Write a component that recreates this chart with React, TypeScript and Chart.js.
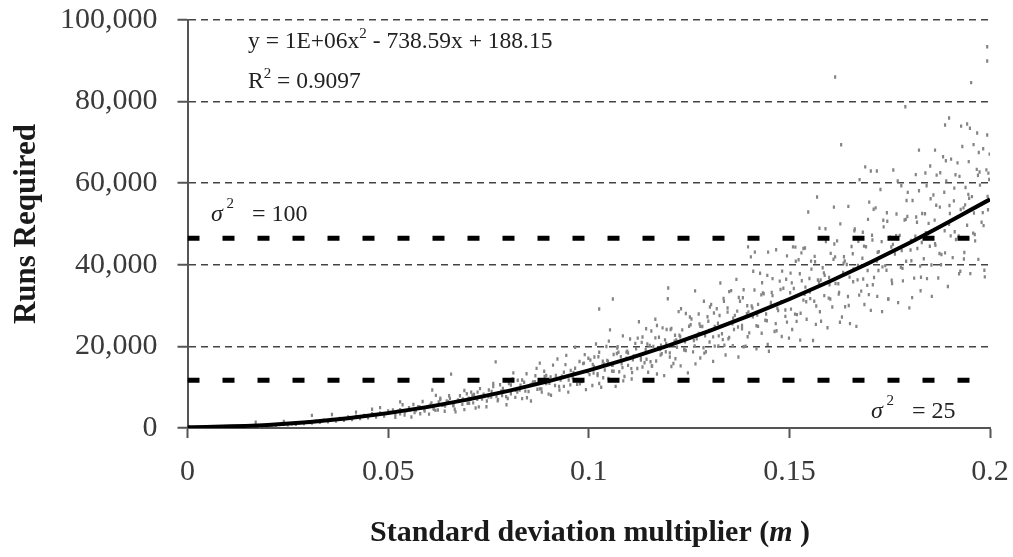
import React, { useEffect, useRef } from 'react';
import { Chart, registerables } from 'chart.js';

Chart.register(...registerables);

// ---- tick labels ----
const xTickLabels = ['0', '0.05', '0.1', '0.15', '0.2'];
const yTickLabels = ['0', '20,000', '40,000', '60,000', '80,000', '100,000'];

// ---- reference levels (σ² = 100 and σ² = 25) ----
const sigmaLevels = [46500, 11700];

// ---- quadratic trend line (m, runs) ----
const trendM = [0, 0.02, 0.04, 0.06, 0.08, 0.1, 0.12, 0.14, 0.16, 0.18, 0.2];
const trendRuns = [190, 730, 2400, 5180, 9090, 14110, 20260, 27530, 35910, 45420, 56040];

// ---- simulated observations [m, runs required] ----
const runsLow: [number, number][] = [
  [0.004, 60], [0.007, 110], [0.009, 90], [0.011, 210], [0.013, 260], [0.015, 290],
  [0.016, 420], [0.017, 1400], [0.018, 400], [0.019, 560], [0.021, 700], [0.022, 580],
  [0.024, 900], [0.024, 1600], [0.025, 780], [0.026, 1050], [0.027, 880], [0.028, 1250],
  [0.029, 1100], [0.030, 1500], [0.031, 1200], [0.031, 3100], [0.032, 1650], [0.033, 1380],
  [0.034, 1900], [0.035, 1550], [0.036, 2100], [0.036, 3300], [0.037, 1700], [0.038, 2350],
  [0.039, 1900], [0.040, 2700], [0.041, 2100], [0.042, 2900], [0.042, 3900], [0.043, 2300],
  [0.044, 3100], [0.045, 2500], [0.046, 3500], [0.046, 4600], [0.047, 2700], [0.048, 3700],
  [0.048, 5000], [0.049, 2900], [0.050, 4200],
];

const runsMid: [number, number][] = [
  [0.0512, 4400], [0.0518, 2600], [0.0525, 4100], [0.053, 3500], [0.053, 6400], [0.0536, 5700],
  [0.0541, 3200], [0.0547, 4250], [0.0552, 5000], [0.0558, 2700], [0.0563, 5750], [0.0569, 4300],
  [0.0575, 5200], [0.058, 3500], [0.0586, 6500], [0.0591, 4150], [0.0597, 5250], [0.0602, 3400],
  [0.0608, 6150], [0.061, 9300], [0.0613, 4850], [0.0619, 8000], [0.0624, 4400], [0.063, 7000],
  [0.0635, 5550], [0.0641, 4100], [0.0646, 6650], [0.0652, 7900], [0.0657, 13200], [0.0663, 5450],
  [0.0668, 3950], [0.0674, 6900], [0.0679, 7900], [0.0685, 5800], [0.069, 4500], [0.0696, 8400],
  [0.0701, 7300], [0.0707, 8800], [0.0712, 6150], [0.0718, 4900], [0.0723, 8800], [0.0729, 9650],
  [0.0734, 7100], [0.074, 7700], [0.0745, 5200], [0.0751, 9300], [0.0757, 7600], [0.0762, 10900],
  [0.0768, 16200], [0.0773, 6650], [0.0779, 10600], [0.0784, 7950], [0.079, 9000], [0.0795, 5700],
  [0.0801, 10900], [0.0806, 8400], [0.0812, 13500], [0.0817, 7500], [0.0823, 11700], [0.0828, 9300],
  [0.0834, 7200], [0.0839, 11200], [0.0845, 13300], [0.085, 8950], [0.0856, 6600], [0.0861, 11300],
  [0.0867, 12800], [0.0872, 9500], [0.0878, 15900], [0.0883, 8800], [0.0889, 13900], [0.0894, 10900],
  [0.09, 8300], [0.0905, 12500], [0.0911, 15400], [0.0916, 10400], [0.0922, 16900], [0.0927, 9300],
  [0.0933, 12700], [0.0938, 10200], [0.0944, 17800], [0.0949, 8800], [0.0955, 14100], [0.096, 12300],
  [0.0966, 19800], [0.0971, 10700], [0.0977, 16300], [0.0982, 11400], [0.0988, 15900], [0.0993, 9400],
  [0.0999, 17100],
];

const runsUpperMid: [number, number][] = [
  [0.1004, 16650], [0.1009, 10400], [0.1013, 15090], [0.1018, 20600], [0.1022, 12870], [0.1026, 18570],
  [0.1031, 9970], [0.1035, 16350], [0.104, 14230], [0.1044, 19990], [0.1049, 12170], [0.1053, 24060],
  [0.1058, 15360], [0.1062, 18000], [0.1067, 10200], [0.1071, 19590], [0.1076, 13780], [0.108, 17470],
  [0.1085, 22580], [0.1089, 12620], [0.1094, 18600], [0.1098, 15360], [0.1103, 21800], [0.1107, 12010],
  [0.1112, 17660], [0.1116, 20750], [0.1121, 14600], [0.1125, 26050], [0.113, 17160], [0.1134, 22320],
  [0.1139, 15980], [0.1143, 24330], [0.1148, 13650], [0.1152, 20250], [0.1157, 15180], [0.1161, 20000],
  [0.1166, 26640], [0.117, 13220], [0.1175, 22230], [0.1179, 17900], [0.1184, 24540], [0.1188, 12840],
  [0.1193, 20730], [0.1197, 31690], [0.1202, 17400], [0.1206, 24430], [0.1211, 15810], [0.1215, 22740],
  [0.122, 19800], [0.1224, 28530], [0.1229, 15230], [0.1233, 24050], [0.1238, 19310], [0.1242, 28080],
  [0.1247, 13500], [0.1251, 22130], [0.1256, 26730], [0.126, 18670], [0.1265, 33600], [0.1269, 21870],
  [0.1274, 27950], [0.1278, 17150], [0.1283, 24890], [0.1287, 31070], [0.1292, 18700], [0.1296, 27280],
  [0.1301, 21090], [0.1305, 30280], [0.131, 16340], [0.1314, 24900], [0.1319, 29230], [0.1323, 20090],
  [0.1328, 35550], [0.1332, 23100], [0.1337, 31040], [0.1341, 17880], [0.1346, 28400], [0.135, 22200],
  [0.1355, 33670], [0.1359, 20170], [0.1364, 27610], [0.1368, 36420], [0.1373, 17420], [0.1377, 31060],
  [0.1382, 25140], [0.1386, 33880], [0.1391, 20050], [0.1395, 29970], [0.14, 23320], [0.1404, 41950],
  [0.1409, 27240], [0.1413, 33820], [0.1418, 19420], [0.1422, 30290], [0.1427, 37920], [0.1431, 23220],
  [0.1436, 32910], [0.144, 26420], [0.1445, 37410], [0.1449, 18810], [0.1454, 30780], [0.1458, 36600],
  [0.1463, 23670], [0.1467, 43690], [0.1472, 28810], [0.1476, 35990], [0.1481, 22420], [0.1485, 34270],
  [0.149, 27350], [0.1494, 42190], [0.1499, 22020],
];

const runsHigh: [number, number][] = [
  [0.1503, 37950], [0.1507, 24160], [0.1511, 34200], [0.1515, 44340], [0.1519, 27780], [0.1523, 41240],
  [0.1527, 21540], [0.1531, 36100], [0.1535, 31340], [0.1539, 44100], [0.1543, 26660], [0.1547, 52930],
  [0.1551, 33340], [0.1555, 38930], [0.1559, 21440], [0.1563, 42070], [0.1567, 29910], [0.1571, 36280],
  [0.1575, 48970], [0.1579, 26180], [0.1583, 39290], [0.1587, 32440], [0.1591, 45720], [0.1595, 24580],
  [0.1599, 36870], [0.1603, 42800], [0.1607, 29640], [0.1611, 54130], [0.1615, 35420], [0.1619, 45870],
  [0.1623, 32820], [0.1627, 50030], [0.1631, 27190], [0.1635, 40420], [0.1639, 29710], [0.1643, 40060],
  [0.1647, 54310], [0.1651, 25570], [0.1655, 44490], [0.1659, 35830], [0.1663, 48790], [0.1667, 24900],
  [0.1671, 39870], [0.1675, 60880], [0.1679, 33550], [0.1683, 47980], [0.1687, 30280], [0.1691, 44430],
  [0.1695, 38610], [0.1699, 55360], [0.1703, 28830], [0.1707, 46090], [0.1711, 36890], [0.1715, 53950],
  [0.1719, 32270], [0.1723, 43220], [0.1727, 58460], [0.1731, 28530], [0.1735, 49300], [0.1739, 39800],
  [0.1743, 52740], [0.1747, 31620], [0.1751, 46780], [0.1755, 36220], [0.1759, 63250], [0.1763, 42640],
  [0.1767, 52450], [0.1771, 30740], [0.1775, 47200], [0.1779, 59380], [0.1783, 36050], [0.1787, 50970],
  [0.1791, 40870], [0.1795, 57740], [0.1799, 29450], [0.1803, 45970], [0.1807, 55770], [0.1811, 36740],
  [0.1815, 62100], [0.1819, 44000], [0.1823, 58160], [0.1827, 33650], [0.1831, 52570], [0.1835, 41480],
  [0.1839, 62500], [0.1843, 36610], [0.1847, 50150], [0.1851, 64200], [0.1855, 32270], [0.1859, 57090],
  [0.1863, 45190], [0.1867, 61980], [0.1871, 36760], [0.1875, 54140], [0.1879, 42510], [0.1883, 66480],
  [0.1887, 48350], [0.1891, 60570], [0.1895, 34690], [0.1899, 54530], [0.1903, 65910], [0.1907, 41750],
  [0.1911, 58800], [0.1915, 46210], [0.1919, 64970], [0.1923, 37790], [0.1927, 53550], [0.1931, 68990],
  [0.1935, 41410], [0.1939, 58960], [0.1943, 49680], [0.1947, 65280], [0.1951, 37840], [0.1955, 56720],
  [0.1959, 69460], [0.1963, 45860], [0.1967, 63380], [0.1971, 41340], [0.1975, 59520], [0.1979, 50440],
  [0.1983, 68460], [0.1987, 37030], [0.1991, 63270], [0.1995, 53490], [0.1999, 67130],
];

// dense band of observations close to the trend
const runsCore: [number, number][] = [
  [0.0506, 3870], [0.0518, 3340], [0.053, 4480], [0.0542, 3950], [0.0554, 4380], [0.0566, 3810],
  [0.0578, 5190], [0.059, 4530], [0.0602, 5330], [0.0614, 4590], [0.0626, 6360], [0.0638, 5640],
  [0.065, 6450], [0.0662, 5580], [0.0674, 6550], [0.0686, 7120], [0.0698, 6070], [0.071, 8050],
  [0.0722, 7010], [0.0734, 7690], [0.0746, 6620], [0.0758, 8930], [0.077, 7720], [0.0782, 8990],
  [0.0794, 7680], [0.0806, 10550], [0.0818, 9270], [0.083, 10510], [0.0842, 9030], [0.0854, 10520],
  [0.0866, 11340], [0.0878, 9600], [0.089, 12640], [0.0902, 10940], [0.0914, 11930], [0.0926, 10200],
  [0.0938, 13670], [0.095, 11750], [0.0962, 13600], [0.0974, 11550], [0.0986, 15790], [0.0998, 13800],
  [0.101, 15570], [0.1022, 13310], [0.1034, 15420], [0.1046, 16540], [0.1058, 13950], [0.107, 18270],
  [0.1082, 15730], [0.1094, 17090], [0.1106, 14560], [0.1118, 19420], [0.113, 16630], [0.1142, 19170],
  [0.1154, 16220], [0.1166, 22080], [0.1178, 19230], [0.119, 21610], [0.1202, 18410], [0.1214, 21250],
  [0.1226, 22730], [0.1238, 19100], [0.125, 24940], [0.1262, 21410], [0.1274, 23180], [0.1286, 19680],
  [0.1298, 26180], [0.131, 22340], [0.1322, 25690], [0.1334, 21670], [0.1346, 29420], [0.1358, 25560],
  [0.137, 28640], [0.1382, 24330], [0.1394, 28020], [0.1406, 29890], [0.1418, 25050], [0.143, 32640],
  [0.1442, 27950], [0.1454, 30190], [0.1466, 25570], [0.1478, 33950], [0.149, 28910], [0.1502, 33160],
  [0.1514, 27920], [0.1526, 37820], [0.1538, 32790], [0.155, 36660], [0.1562, 31080], [0.1574, 35730],
  [0.1586, 38030], [0.1598, 31820], [0.161, 41370], [0.1622, 35360], [0.1634, 38130], [0.1646, 32240],
  [0.1658, 42720], [0.167, 36310], [0.1682, 41590], [0.1694, 34950], [0.1706, 47260], [0.1718, 40910],
  [0.173, 45670], [0.1742, 38660], [0.1754, 44360], [0.1766, 47160], [0.1778, 39390], [0.179, 51140],
  [0.1802, 43640], [0.1814, 46990], [0.1826, 39680], [0.1838, 52500], [0.185, 44560], [0.1862, 50960],
  [0.1874, 42770], [0.1886, 57770], [0.1898, 49930], [0.191, 55670], [0.1922, 47060], [0.1934, 53940],
  [0.1946, 57260], [0.1958, 47770], [0.197, 61940], [0.1982, 52800], [0.1994, 56780],
];

const runsSpread: [number, number][] = [
  [0.1012, 13480], [0.1024, 17470], [0.1036, 12320], [0.1048, 16300], [0.106, 15420], [0.1072, 19950],
  [0.1084, 14810], [0.1096, 18840], [0.1108, 13580], [0.112, 17740], [0.1132, 20990], [0.1144, 16860],
  [0.1156, 23760], [0.1168, 16430], [0.118, 20270], [0.1192, 18700], [0.1204, 24150], [0.1216, 16970],
  [0.1228, 22380], [0.124, 21100], [0.1252, 27210], [0.1264, 20130], [0.1276, 25530], [0.1288, 18350],
  [0.13, 23900], [0.1312, 28200], [0.1324, 22580], [0.1336, 31740], [0.1348, 21880], [0.136, 26930],
  [0.1372, 24770], [0.1384, 31910], [0.1396, 22370], [0.1408, 29420], [0.142, 27670], [0.1432, 35600],
  [0.1444, 26270], [0.1456, 33240], [0.1468, 23830], [0.148, 30970], [0.1492, 36460], [0.1504, 29130],
  [0.1516, 40860], [0.1528, 28110], [0.154, 34530], [0.1552, 31700], [0.1564, 40750], [0.1576, 28510],
  [0.1588, 37420], [0.16, 35120], [0.1612, 45110], [0.1624, 33230], [0.1636, 41970], [0.1648, 30040],
  [0.166, 38960], [0.1672, 45790], [0.1684, 36530], [0.1696, 51140], [0.1708, 35120], [0.172, 43070],
  [0.1732, 39480], [0.1744, 50670], [0.1756, 35400], [0.1768, 46390], [0.178, 43470], [0.1792, 55750],
  [0.1804, 41010], [0.1816, 51710], [0.1828, 36960], [0.184, 47870], [0.1852, 56180], [0.1864, 44750],
  [0.1876, 62570], [0.1888, 42920], [0.19, 52560], [0.1912, 48110], [0.1924, 61670], [0.1936, 43030],
  [0.1948, 56310], [0.196, 52710], [0.1972, 67510], [0.1984, 49600], [0.1996, 62470],
];

const runsExtra: [number, number][] = [
  [0.0606, 5760], [0.0618, 4330], [0.063, 7280], [0.0642, 5370], [0.0654, 7250], [0.0666, 4600],
  [0.0678, 6690], [0.069, 9200], [0.0702, 6070], [0.0714, 8210], [0.0726, 5170], [0.0738, 8310],
  [0.075, 7640], [0.0762, 10160], [0.0774, 6960], [0.0786, 9690], [0.0798, 7220], [0.081, 12030],
  [0.0822, 8800], [0.0834, 11780], [0.0846, 7410], [0.0858, 10720], [0.087, 14620], [0.0882, 9580],
  [0.0894, 12870], [0.0906, 8040], [0.0918, 12860], [0.093, 11750], [0.0942, 15530], [0.0954, 10580],
  [0.0966, 14630], [0.0978, 10850], [0.099, 17980], [0.1002, 13070], [0.1014, 17420], [0.1026, 10910],
  [0.1038, 15690], [0.105, 21300], [0.1062, 13900], [0.1074, 18570], [0.1086, 11560], [0.1098, 18400],
  [0.111, 16730], [0.1122, 22030], [0.1134, 14940], [0.1146, 20590], [0.1158, 15210], [0.117, 25110],
  [0.1182, 18190], [0.1194, 24150], [0.1206, 15070], [0.1218, 21600], [0.123, 29230], [0.1242, 19000],
  [0.1254, 25320], [0.1266, 15710], [0.1278, 24920], [0.129, 22600], [0.1302, 29670], [0.1314, 20060],
  [0.1326, 27570], [0.1338, 20300], [0.135, 33420], [0.1362, 24150], [0.1374, 31980], [0.1386, 19900],
  [0.1398, 28460], [0.141, 38410], [0.1422, 24910], [0.1434, 33110], [0.1446, 20490], [0.1458, 32440],
  [0.147, 29350], [0.1482, 38440], [0.1494, 25940], [0.1506, 35560], [0.1518, 26130], [0.153, 42930],
  [0.1542, 30960], [0.1554, 40910], [0.1566, 25410], [0.1578, 36260], [0.159, 48840], [0.1602, 31620],
  [0.1614, 41940], [0.1626, 25910], [0.1638, 40940], [0.165, 36970], [0.1662, 48340], [0.1674, 32560],
  [0.1686, 44570], [0.1698, 32690], [0.171, 53630], [0.1722, 38610], [0.1734, 50930], [0.1746, 31580],
  [0.1758, 45000], [0.177, 60530], [0.1782, 39120], [0.1794, 51820], [0.1806, 31960], [0.1818, 50440],
  [0.183, 45480], [0.1842, 59380], [0.1854, 39940], [0.1866, 54600], [0.1878, 40000], [0.189, 65510],
  [0.1902, 47100], [0.1914, 62060], [0.1926, 38430], [0.1938, 54690], [0.195, 73460], [0.1962, 47430],
  [0.1974, 62740], [0.1986, 38650], [0.1998, 60920],
];

const runsOutliers: [number, number][] = [
  [0.1026, 29170], [0.106, 31600], [0.1198, 34300], [0.1397, 44400], [0.1414, 43100],
  [0.1447, 43100], [0.1509, 44400], [0.1535, 44000], [0.1569, 56600], [0.1614, 86030],
  [0.1629, 69440], [0.1689, 64000], [0.1703, 63000], [0.1718, 63000], [0.1789, 78750],
  [0.1823, 68100], [0.1863, 68100], [0.1888, 74260], [0.1898, 75980], [0.1928, 74000],
  [0.1943, 74500], [0.1953, 84640], [0.1968, 72300], [0.1993, 71800], [0.1993, 89950],
  [0.1993, 93460],
];

const SERIF = "'Liberation Serif', 'Times New Roman', serif";

type Run = { t: string; f: string; dy?: number };

function drawRuns(ctx: CanvasRenderingContext2D, x: number, y: number, runs: Run[], align: 'left' | 'center' = 'left') {
  ctx.textBaseline = 'alphabetic';
  ctx.textAlign = 'left';
  let total = 0;
  for (const r of runs) {
    ctx.font = r.f;
    total += ctx.measureText(r.t).width;
  }
  let cx = align === 'center' ? x - total / 2 : x;
  for (const r of runs) {
    ctx.font = r.f;
    ctx.fillText(r.t, cx, y + (r.dy || 0));
    cx += ctx.measureText(r.t).width;
  }
}

const textPlugin = {
  id: 'figureText',
  afterDraw(chart: any) {
    const ctx: CanvasRenderingContext2D = chart.ctx;
    ctx.save();
    ctx.fillStyle = '#222';
    const big = `23.5px ${SERIF}`;
    const sup = `15px ${SERIF}`;
    drawRuns(ctx, 248, 48, [
      { t: 'y = 1E+06x', f: big },
      { t: '2', f: sup, dy: -10 },
      { t: ' - 738.59x + 188.15', f: big },
    ]);
    drawRuns(ctx, 248, 88, [
      { t: 'R', f: big },
      { t: '2', f: sup, dy: -10 },
      { t: ' = 0.9097', f: big },
    ]);
    drawRuns(ctx, 211, 221, [
      { t: 'σ', f: `italic 24px ${SERIF}` },
      { t: ' 2', f: sup, dy: -13 },
      { t: '   = 100', f: `24px ${SERIF}` },
    ]);
    drawRuns(ctx, 871, 418, [
      { t: 'σ', f: `italic 24px ${SERIF}` },
      { t: ' 2', f: sup, dy: -13 },
      { t: '   = 25', f: `24px ${SERIF}` },
    ]);
    // x-axis title
    ctx.fillStyle = '#1a1a1a';
    drawRuns(ctx, 590, 541, [
      { t: 'Standard deviation multiplier (', f: `bold 30px ${SERIF}` },
      { t: 'm', f: `bold italic 30px ${SERIF}` },
      { t: ' )', f: `bold 30px ${SERIF}` },
    ], 'center');
    // y-axis title
    ctx.save();
    ctx.translate(35, 224);
    ctx.rotate(-Math.PI / 2);
    ctx.font = `bold 31px ${SERIF}`;
    ctx.textAlign = 'center';
    ctx.textBaseline = 'alphabetic';
    ctx.fillText('Runs Required', 0, 0);
    ctx.restore();
    ctx.restore();
  },
};

const toPts = (arr: [number, number][]) => arr.map(([x, y]) => ({ x, y }));

export default function App() {
  const ref = useRef<HTMLCanvasElement | null>(null);
  useEffect(() => {
    if (!ref.current) return;
    const scatterData = [
      ...toPts(runsLow),
      ...toPts(runsMid),
      ...toPts(runsUpperMid),
      ...toPts(runsHigh),
      ...toPts(runsCore),
      ...toPts(runsSpread),
      ...toPts(runsExtra),
      ...toPts(runsOutliers),
    ];
    const chart = new Chart(ref.current, {
      type: 'scatter',
      data: {
        datasets: [
          {
            type: 'line',
            label: 'σ² = 100',
            data: [{ x: 0, y: sigmaLevels[0] }, { x: 0.2, y: sigmaLevels[0] }],
            borderColor: '#000',
            borderWidth: 5,
            borderDash: [12, 23],
            pointRadius: 0,
            order: 0,
          } as any,
          {
            type: 'line',
            label: 'σ² = 25',
            data: [{ x: 0, y: sigmaLevels[1] }, { x: 0.2, y: sigmaLevels[1] }],
            borderColor: '#000',
            borderWidth: 5,
            borderDash: [12, 23],
            pointRadius: 0,
            order: 0,
          } as any,
          {
            type: 'line',
            label: 'Poly. trend',
            data: trendM.map((m, i) => ({ x: m, y: trendRuns[i] })),
            borderColor: '#000',
            borderWidth: 4,
            cubicInterpolationMode: 'monotone',
            pointRadius: 0,
            order: 1,
          } as any,
          {
            type: 'scatter',
            label: 'Runs',
            data: scatterData,
            pointStyle: 'line',
            rotation: 90,
            pointRadius: 1.7,
            borderWidth: 2.2,
            borderColor: '#858585',
            backgroundColor: '#858585',
            order: 2,
          } as any,
        ],
      },
      options: {
        responsive: false,
        animation: false,
        events: [],
        layout: { padding: { left: 0, right: 23, top: 20, bottom: 0 } },
        plugins: { legend: { display: false }, tooltip: { enabled: false } },
        scales: {
          x: {
            type: 'linear',
            min: 0,
            max: 0.2,
            afterFit: (s: any) => {
              s.height = 129;
              s.paddingLeft = 0;
              s.paddingRight = 0;
            },
            ticks: {
              stepSize: 0.05,
              color: '#3a3a3a',
              font: { family: SERIF, size: 30 },
              padding: 16,
              maxRotation: 0,
              callback: (_v: any, i: number) => xTickLabels[i],
            },
            grid: {
              drawOnChartArea: false,
              drawTicks: true,
              tickLength: 10,
              tickColor: '#555',
              tickWidth: 2,
            },
            border: { display: true, color: '#555', width: 2 },
          },
          y: {
            type: 'linear',
            min: 0,
            max: 100000,
            afterFit: (s: any) => {
              s.width = 187.5;
              s.paddingTop = 0;
              s.paddingBottom = 0;
            },
            ticks: {
              stepSize: 20000,
              color: '#3a3a3a',
              font: { family: SERIF, size: 30 },
              padding: 20,
              callback: (_v: any, i: number) => yTickLabels[i],
            },
            grid: {
              drawOnChartArea: true,
              drawTicks: true,
              tickLength: 10,
              color: '#444',
              lineWidth: 1.5,
              tickColor: '#555',
              tickWidth: 2,
              tickBorderDash: [],
            },
            border: { display: true, color: '#555', width: 2, dash: [7, 5] },
          },
        },
      },
      plugins: [textPlugin],
    });
    return () => chart.destroy();
  }, []);
  return (
    <div style={{ position: 'absolute', left: 0, top: 0, width: 1013, height: 557, background: '#fff' }}>
      <canvas ref={ref} width={1013} height={557} style={{ display: 'block' }} />
    </div>
  );
}
